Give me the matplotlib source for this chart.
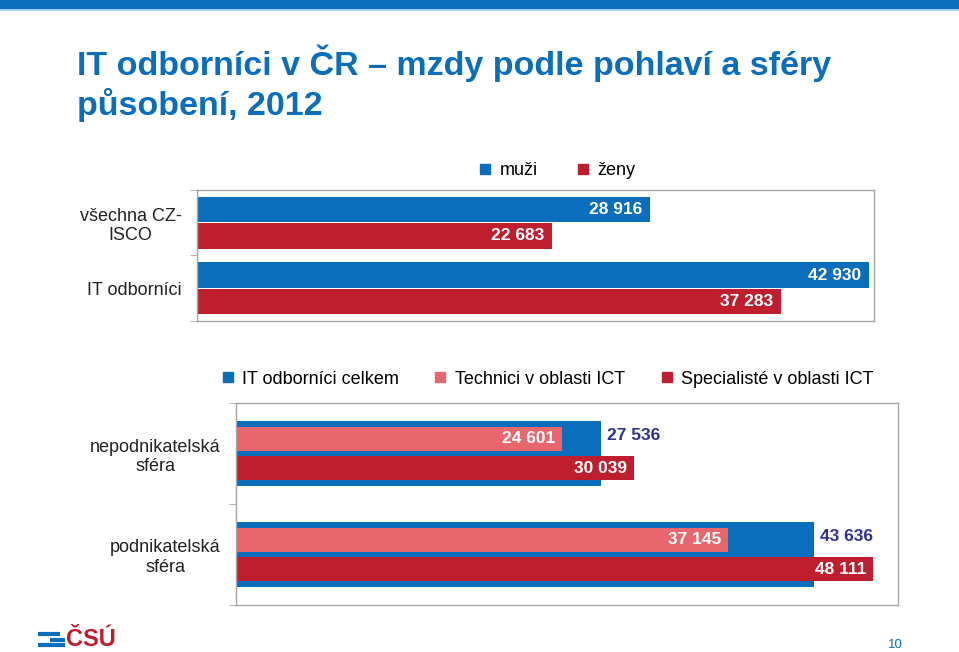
import matplotlib.pyplot as plt
from matplotlib.lines import Line2D
from matplotlib.patches import Rectangle

plt.rcParams['font.family'] = ['Liberation Sans', 'DejaVu Sans']

W, H = 959, 652

# top chart: wages by sex
top_cats = ['všechna CZ-\nISCO', 'IT odborníci']
muzi = [28916, 42930]
zeny = [22683, 37283]

# bottom chart: by sphere
bot_cats = ['nepodnikatelská\nsféra', 'podnikatelská\nsféra']
it_celkem = [27536, 43636]
technici = [24601, 37145]
specialiste = [30039, 48111]

BLUE = '#0a6ebd'
RED = '#be1e2d'
PINK = '#e8666e'
NAVY = '#2e3192'
GRID = '#a6a6a6'


def fmt(v):
    return f'{v:,}'.replace(',', ' ')


def px_axes(fig, x0, y0, x1, y1):
    return fig.add_axes([x0 / W, 1 - y1 / H, (x1 - x0) / W, (y1 - y0) / H])


def style(ax, cats):
    ax.set_ylim(1.5, -0.5)
    ax.set_xticks([])
    ax.set_yticks(range(len(cats)))
    ax.set_yticklabels(cats, fontsize=13, color='#222222', multialignment='center')
    ax.tick_params(axis='y', length=0, pad=11)
    ax.set_yticks([-0.5, 0.5, 1.5], minor=True)
    ax.tick_params(axis='y', which='minor', length=5, color=GRID, direction='out')
    for s in ax.spines.values():
        s.set_color(GRID)
        s.set_linewidth(1.0)


fig = plt.figure(figsize=(W / 100, H / 100), dpi=100)

# header band
fig.add_artist(Rectangle((0, 1 - 9 / H), 1, 9 / H, transform=fig.transFigure,
                         color=BLUE, lw=0))
fig.add_artist(Rectangle((0, 1 - 11 / H), 1, 2 / H, transform=fig.transFigure,
                         color='#9fd3ee', lw=0))

fig.text(77 / W, 1 - 83 / H, 'IT odborníci v ČR – mzdy podle pohlaví a sféry\npůsobení, 2012',
         fontsize=24.5, fontweight='bold', color=BLUE, va='center', ha='left', linespacing=1.22)

# top chart
ax1 = px_axes(fig, 197, 190, 874, 321)
y = range(len(top_cats))
bh = 0.39
b1 = ax1.barh([i - 0.2 for i in y], muzi, height=bh, color=BLUE, label='muži')
b2 = ax1.barh([i + 0.2 for i in y], zeny, height=bh, color=RED, label='ženy')
ax1.set_xlim(0, 43250)
style(ax1, top_cats)
for bars in (b1, b2):
    for r in bars:
        ax1.text(r.get_width() - 500, r.get_y() + r.get_height() / 2, fmt(int(r.get_width())),
                 ha='right', va='center', color='white', fontsize=12.5, fontweight='bold')

fig.legend(handles=[Line2D([], [], marker='s', ls='', color=BLUE, markersize=7),
                    Line2D([], [], marker='s', ls='', color=RED, markersize=7)],
           labels=['muži', 'ženy'], loc='center', bbox_to_anchor=(556 / W, 1 - 171 / H),
           ncol=2, frameon=False, fontsize=13, handletextpad=0.3, columnspacing=2.0,
           handlelength=1.0)

# bottom chart
ax2 = px_axes(fig, 236, 403, 898, 605)
y = range(len(bot_cats))
c1 = ax2.barh(list(y), it_celkem, height=0.64, color=BLUE)
c2 = ax2.barh([i - 0.144 for i in y], technici, height=0.24, color=PINK)
c3 = ax2.barh([i + 0.144 for i in y], specialiste, height=0.24, color=RED)
ax2.set_xlim(0, 50000)
style(ax2, bot_cats)
for r in c1:
    ax2.text(r.get_width() + 500, r.get_y() + r.get_height() / 2 - 0.18, fmt(int(r.get_width())),
             ha='left', va='center', color=NAVY, fontsize=12.5, fontweight='bold')
for bars in (c2, c3):
    for r in bars:
        ax2.text(r.get_width() - 500, r.get_y() + r.get_height() / 2, fmt(int(r.get_width())),
                 ha='right', va='center', color='white', fontsize=12.5, fontweight='bold')

fig.legend(handles=[Line2D([], [], marker='s', ls='', color=c, markersize=7)
                    for c in (BLUE, PINK, RED)],
           labels=['IT odborníci celkem', 'Technici v oblasti ICT', 'Specialisté v oblasti ICT'],
           loc='center', bbox_to_anchor=(546 / W, 1 - 379 / H), ncol=3, frameon=False,
           fontsize=13, handletextpad=0.3, columnspacing=1.8, handlelength=1.0)

# logo
for x0, x1, yy in [(38, 60, 634), (50, 65, 640), (38, 65, 645)]:
    fig.add_artist(Line2D([x0 / W, x1 / W], [1 - yy / H] * 2, transform=fig.transFigure,
                          color=BLUE, lw=3, solid_capstyle='butt'))
fig.text(66 / W, 1 - 640 / H, 'ČSÚ', fontsize=17, fontweight='bold', color=RED,
         va='center', ha='left')
fig.text(895 / W, 1 - 645 / H, '10', fontsize=9.5, color=BLUE, va='center', ha='center')

fig.savefig('out.png', dpi=100)
